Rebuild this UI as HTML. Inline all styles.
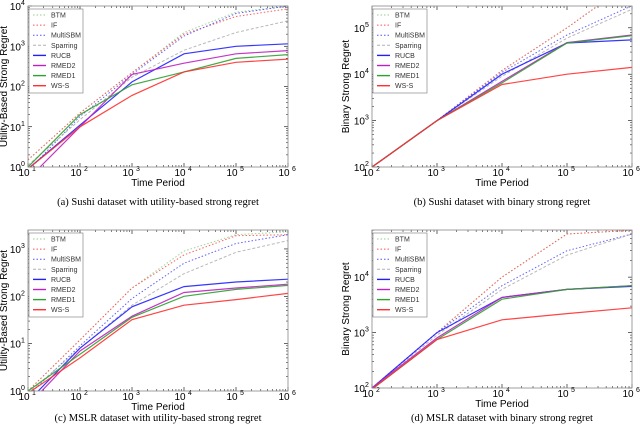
<!DOCTYPE html>
<html><head><meta charset="utf-8"><style>
html,body{margin:0;padding:0;background:#fff;width:640px;height:432px;overflow:hidden}
svg{display:block}
</style></head><body>
<svg id="fig" width="640" height="432" xmlns="http://www.w3.org/2000/svg"></svg>
<script>
const seriesNames = ["BTM","IF","MultiSBM","Sparring","RUCB","RMED2","RMED1","WS-S"];
const seriesColors = ["#8fd08f","#ff5050","#5050ff","#b0b0b0","#2020ff","#c020c0","#30a030","#ff3030"];
const seriesDash = ["1.5,2","1.5,2","1.5,2","3,2","","","",""];

const xA = [1e1,1e2,1e3,1e4,1e5,1e6];
const aBTM=[1.5,22,220,2200,7000,10000];
const aIF=[1.5,22,220,2000,5500,8500];
const aMulti=[0.8,18,200,1800,6500,10000];
const aSpar=[1.1,15,170,800,2200,4300];
const aRUCB=[0.9,11,130,650,1000,1150];
const aRMED2=[0.5,10,200,380,650,780];
const aRMED1=[1.0,20,110,230,500,620];
const aWSS=[0.9,10,60,230,400,480];

const xB = [1e2,1e3,1e4,1e5,1e6];
const bBTM=[100,1000,1.2e4,1e5,1e6];
const bIF=[100,1000,1.2e4,1e5,1e6];
const bMulti=[100,1000,1.1e4,7e4,3e5];
const bSpar=[100,1000,9e3,6e4,2.5e5];
const bRUCB=[100,1000,1e4,4.7e4,5.5e4];
const bRMED2=[100,1000,7e3,4.8e4,7e4];
const bRMED1=[100,1000,6.5e3,4.7e4,6.8e4];
const bWSS=[100,1000,6e3,1e4,1.4e4];

const xC = [1e1,1e2,1e3,1e4,1e5,1e6];
const cBTM=[1,12,150,900,2000,2300];
const cIF=[1,12,150,750,1900,2000];
const cMulti=[0.8,9,90,500,1300,2000];
const cSpar=[0.9,8,65,300,850,1500];
const cRUCB=[0.6,8,60,160,200,230];
const cRMED2=[0.5,7,38,120,150,180];
const cRMED1=[1,6,36,100,140,170];
const cWSS=[0.9,5,32,65,85,115];

const xD = [1e2,1e3,1e4,1e5,1e6];
const dBTM=[100,1000,1e4,6e4,7e4];
const dIF=[100,1000,1e4,6e4,7e4];
const dMulti=[100,1000,7e3,3e4,6e4];
const dSpar=[100,900,6e3,2.5e4,6e4];
const dRUCB=[100,1000,4.3e3,6e3,6.8e3];
const dRMED2=[100,800,4.3e3,6e3,7e3];
const dRMED1=[95,750,4e3,6e3,7e3];
const dWSS=[95,750,1.7e3,2.2e3,2.8e3];

const NS="http://www.w3.org/2000/svg";
const svg=document.getElementById('fig');
function el(t,a,p){const e=document.createElementNS(NS,t);for(const k in a)e.setAttribute(k,a[k]);(p||svg).appendChild(e);return e;}

const panels=[
 {id:'a',L:28,R:288,T:6,B:167,x0:1,x1:6,y0:0,y1:4,xs:xA,data:[aBTM,aIF,aMulti,aSpar,aRUCB,aRMED2,aRMED1,aWSS],ytitle:"Utility-Based Strong Regret",cap:"(a) Sushi dataset with utility-based strong regret",capY:205},
 {id:'b',L:372,R:632,T:6,B:167,x0:2,x1:6,y0:2,y1:5.47,xs:xB,data:[bBTM,bIF,bMulti,bSpar,bRUCB,bRMED2,bRMED1,bWSS],ytitle:"Binary Strong Regret",cap:"(b) Sushi dataset with binary strong regret",capY:205},
 {id:'c',L:28,R:288,T:230,B:391,x0:1,x1:6,y0:0,y1:3.4,xs:xC,data:[cBTM,cIF,cMulti,cSpar,cRUCB,cRMED2,cRMED1,cWSS],ytitle:"Utility-Based Strong Regret",cap:"(c) MSLR dataset with utility-based strong regret",capY:421},
 {id:'d',L:372,R:632,T:230,B:388,x0:2,x1:6,y0:2,y1:4.85,xs:xD,data:[dBTM,dIF,dMulti,dSpar,dRUCB,dRMED2,dRMED1,dWSS],ytitle:"Binary Strong Regret",cap:"(d) MSLR dataset with binary strong regret",capY:421}
];

panels.forEach(p=>{
 const g=el('g',{});
 
 
 const X=v=>p.L+(Math.log10(v)-p.x0)/(p.x1-p.x0)*(p.R-p.L);
 const Y=v=>p.B-(Math.log10(v)-p.y0)/(p.y1-p.y0)*(p.B-p.T);
 const cp=el('clipPath',{id:'clip'+p.id},g);
 el('rect',{x:p.L,y:p.T,width:p.R-p.L,height:p.B-p.T},cp);
 for(let e=p.x0;e<=p.x1;e++){
  const x=X(Math.pow(10,e));
  el('line',{x1:x,x2:x,y1:p.B,y2:p.B-4,stroke:'#000','stroke-width':0.6},g);
  el('line',{x1:x,x2:x,y1:p.T,y2:p.T+4,stroke:'#000','stroke-width':0.6},g);
  const t=el('text',{x:x-4,y:p.B+9,'font-size':10,'font-family':'Liberation Sans, sans-serif','text-anchor':'middle'},g);
  
  
  t.textContent='10';
  const s=el('text',{x:x+4,y:p.B+4,'font-size':7,'font-family':'Liberation Sans, sans-serif'},g);
  s.textContent=String(e);
  if(e<p.x1)for(let m=2;m<10;m++){const xm=X(m*Math.pow(10,e));
   el('line',{x1:xm,x2:xm,y1:p.B,y2:p.B-2,stroke:'#000','stroke-width':0.5},g);
   el('line',{x1:xm,x2:xm,y1:p.T,y2:p.T+2,stroke:'#000','stroke-width':0.5},g);}
 }
 for(let e=Math.ceil(p.y0);e<=Math.floor(p.y1);e++){
  const y=Y(Math.pow(10,e));
  el('line',{x1:p.L,x2:p.L+4,y1:y,y2:y,stroke:'#000','stroke-width':0.6},g);
  el('line',{x1:p.R,x2:p.R-4,y1:y,y2:y,stroke:'#000','stroke-width':0.6},g);
  const t=el('text',{x:p.L-7,y:y+4,'font-size':10,'font-family':'Liberation Sans, sans-serif','text-anchor':'end'},g);
  
  
  t.textContent='10';
  const s=el('text',{x:p.L-7,y:y-1,'font-size':7,'font-family':'Liberation Sans, sans-serif'},g);
  s.textContent=String(e);
 }
 for(let e=Math.floor(p.y0);e<p.y1;e++)for(let m=2;m<10;m++){const v=m*Math.pow(10,e);const lv=Math.log10(v);if(lv<=p.y0||lv>=p.y1)continue;const y=Y(v);
  el('line',{x1:p.L,x2:p.L+2,y1:y,y2:y,stroke:'#000','stroke-width':0.5},g);
  el('line',{x1:p.R,x2:p.R-2,y1:y,y2:y,stroke:'#000','stroke-width':0.5},g);}
 const sg=el('g',{'clip-path':'url(#clip'+p.id+')'},g);
 p.data.forEach((d,i)=>{
  const pts=d.map((v,k)=>X(p.xs[k]).toFixed(1)+','+Y(v).toFixed(1)).join(' ');
  const pl=el('polyline',{points:pts,fill:'none',stroke:seriesColors[i],'stroke-width':i>=4?1.2:1,'stroke-dasharray':seriesDash[i],opacity:0.9},sg);
  
  
 });
 const fr=el('rect',{x:p.L,y:p.T,width:p.R-p.L,height:p.B-p.T,fill:'none',stroke:'#888','stroke-width':0.8},g);
 
 
 const lx=p.L+1, ly=p.T+3;
 const lg=el('g',{},g);
 
 
 el('rect',{x:lx,y:ly,width:54,height:84,fill:'#fff',stroke:'#777','stroke-width':0.6},lg);
 seriesNames.forEach((n,i)=>{
  const yy=ly+6+i*10.1;
  el('line',{x1:lx+4,x2:lx+17,y1:yy,y2:yy,stroke:seriesColors[i],'stroke-width':i>=4?1.4:1,'stroke-dasharray':seriesDash[i]},lg);
  const t=el('text',{x:lx+22,y:yy+2.5,'font-size':7,'font-family':'Liberation Sans, sans-serif',fill:'#333'},lg);
  
  
  t.textContent=n;
 });
 const cx=(p.L+p.R)/2;
 const xt=el('text',{x:cx,y:p.B+19,'font-size':10,'font-family':'Liberation Sans, sans-serif','text-anchor':'middle'},g);
 
 
 xt.textContent='Time Period';
 const ytx=p.L-(p.id==='a'||p.id==='c'?21:23), yc=(p.T+p.B)/2;
 const yt=el('text',{x:ytx,y:yc,'font-size':10,'font-family':'Liberation Sans, sans-serif','text-anchor':'middle',transform:'rotate(-90 '+ytx+' '+yc+')'},g);
 
 
 yt.textContent=p.ytitle;
 const cap=el('text',{x:cx,y:p.capY,'font-size':10.5,'font-family':'Liberation Serif, serif','text-anchor':'middle'},g);
 
 
 cap.textContent=p.cap;
});
</script>
</body></html>
